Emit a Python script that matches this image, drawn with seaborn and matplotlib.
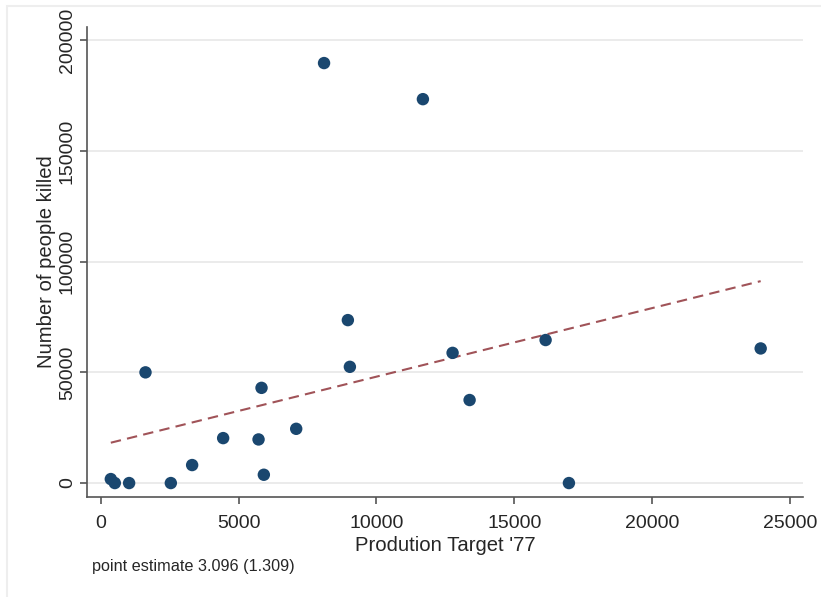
import numpy as np
import pandas as pd
import matplotlib
matplotlib.use("Agg")
import matplotlib.pyplot as plt
from matplotlib.patches import Rectangle
import seaborn as sns

# Values
production_target = [363, 508, 1027, 1621, 2540, 3313, 4438, 5722, 5830, 5914,
                     7088, 8962, 9035, 8098, 11684, 12761, 13378, 16135, 16981, 23937]
people_killed = [1800, 0, 0, 50000, 0, 8130, 20300, 19700, 43000, 3750,
                 24500, 73600, 52500, 189700, 173400, 58800, 37500, 64600, 0, 60800]

# fitted line as reported on the graph
fit_slope = 3.096
fit_intercept = 17100

x_ticks = [0, 5000, 10000, 15000, 20000, 25000]
y_ticks = [0, 50000, 100000, 150000, 200000]

df = pd.DataFrame({"target": production_target, "killed": people_killed})
x_fit = np.array([min(production_target), max(production_target)])
fit_df = pd.DataFrame({"target": x_fit, "killed": fit_intercept + fit_slope * x_fit})

sns.set_style("white")
plt.rcParams["font.family"] = ["Liberation Sans", "DejaVu Sans"]

navy = "#1a476f"
maroon = "#90353b"
spine_col = "#555555"

fig = plt.figure(figsize=(8.21, 5.97), dpi=100)
ax = fig.add_axes([0.106, 0.1675, 0.872, 0.7873])

# light outer frame like the Stata graph region
fig.patches.append(Rectangle((0.009, -0.1), 1.2, 1.09, transform=fig.transFigure,
                             fill=False, edgecolor="#eeeeee", linewidth=1.5, zorder=0))

sns.scatterplot(data=df, x="target", y="killed", color=navy, s=80,
                edgecolor="none", ax=ax, zorder=3)
sns.lineplot(data=fit_df, x="target", y="killed", color=maroon, alpha=0.85, lw=1.5,
             linestyle=(0, (5, 3)), ax=ax, zorder=2)

ax.set_xlim(-500, 25470)
ax.set_ylim(-6300, 206000)
ax.set_xticks(x_ticks)
ax.set_yticks(y_ticks)

ax.yaxis.grid(True, color="#e8e8e8", linewidth=1.2)
ax.xaxis.grid(False)
ax.set_axisbelow(True)

for side in ["top", "right"]:
    ax.spines[side].set_visible(False)
for side in ["left", "bottom"]:
    ax.spines[side].set_color(spine_col)
    ax.spines[side].set_linewidth(1.2)

ax.tick_params(axis="both", direction="out", length=5, width=1.2, color=spine_col,
               labelsize=14, left=True, bottom=True)
ax.tick_params(axis="x", pad=8)
ax.tick_params(axis="y", pad=3, labelrotation=90)
for lab in ax.get_yticklabels():
    lab.set_va("center")

ax.set_xlabel("Prodution Target '77", fontsize=14.6, labelpad=3)
ax.set_ylabel("Number of people killed", fontsize=14.6, labelpad=2)

fig.text(92 / 821, 1 - 566 / 597, "point estimate 3.096 (1.309)", fontsize=11.7,
         va="center", ha="left")

plt.savefig("out.png", dpi=100)
plt.close()
